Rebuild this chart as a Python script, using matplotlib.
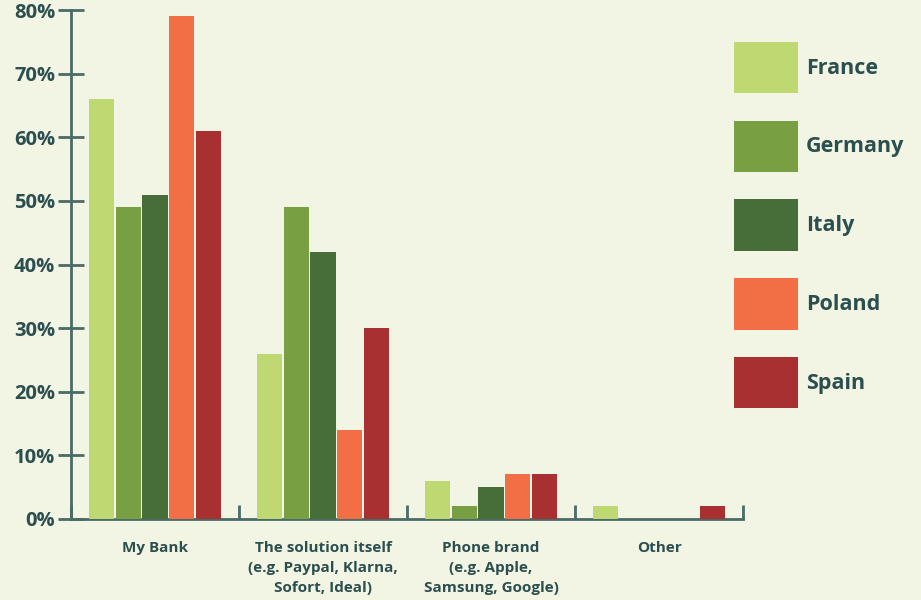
import numpy as np
import matplotlib.pyplot as plt
from matplotlib.ticker import FixedLocator, PercentFormatter

plt.rcParams['font.family'] = ['Open Sans', 'DejaVu Sans']
plt.rcParams['font.weight'] = 'bold'

categories = ['My Bank', 'The solution itself\n(e.g. Paypal, Klarna,\nSofort, Ideal)',
              'Phone brand\n(e.g. Apple,\nSamsung, Google)', 'Other']
countries = ['France', 'Germany', 'Italy', 'Poland', 'Spain']
france = [66, 26, 6, 2]
germany = [49, 49, 2, 0]
italy = [51, 42, 5, 0]
poland = [79, 14, 7, 0]
spain = [61, 30, 7, 2]
yticks = [0, 10, 20, 30, 40, 50, 60, 70, 80]

colors = ['#bed872', '#789f42', '#476e39', '#f26e45', '#a83030']
bg = '#f2f5e3'
ink = '#2b4e4e'
axis_col = '#4a6b67'

series = [france, germany, italy, poland, spain]
x = np.arange(len(categories))
step = 0.159
width = 0.15

fig = plt.figure(figsize=(9.21, 6), dpi=100, facecolor=bg)
ax = fig.add_axes([71 / 921, 81 / 600, 672 / 921, 509 / 600])
ax.set_facecolor(bg)

for i, (vals, name, c) in enumerate(zip(series, countries, colors)):
    ax.bar(x + (i - 2) * step, vals, width, color=c, label=name, zorder=3)

ax.set_xlim(-0.5, 3.5)
ax.set_ylim(0, 80)
ax.yaxis.set_major_locator(FixedLocator(yticks))
ax.yaxis.set_major_formatter(PercentFormatter(decimals=0))
ax.set_xticks(x)
ax.set_xticklabels(categories, fontsize=11, color=ink, linespacing=1.55)
ax.set_xticks(np.arange(-0.5, 4, 1), minor=True)

for s in ['top', 'right']:
    ax.spines[s].set_visible(False)
for s in ['left', 'bottom']:
    ax.spines[s].set_color(axis_col)
    ax.spines[s].set_linewidth(2)
    ax.spines[s].set_zorder(2)

ax.tick_params(axis='y', direction='inout', length=19, width=2, color=axis_col,
               labelsize=14.5, labelcolor=ink, pad=2)
ax.tick_params(axis='x', which='major', length=0, pad=16)
ax.tick_params(axis='x', which='minor', direction='in', length=10, width=2, color=axis_col)
for t in ax.get_xticklabels():
    t.set_verticalalignment('top')
    t.set_horizontalalignment('center')
    t.set_multialignment('center')

fig.legend(loc='upper left', bbox_to_anchor=(723 / 921, 1 - 31 / 600), frameon=False,
           prop={'size': 15.5, 'weight': 'bold'}, handlelength=3.0, handleheight=3.3,
           labelspacing=1.27, handletextpad=0.35, borderpad=0, labelcolor=ink)

fig.savefig('out.png', dpi=100, facecolor=bg)
